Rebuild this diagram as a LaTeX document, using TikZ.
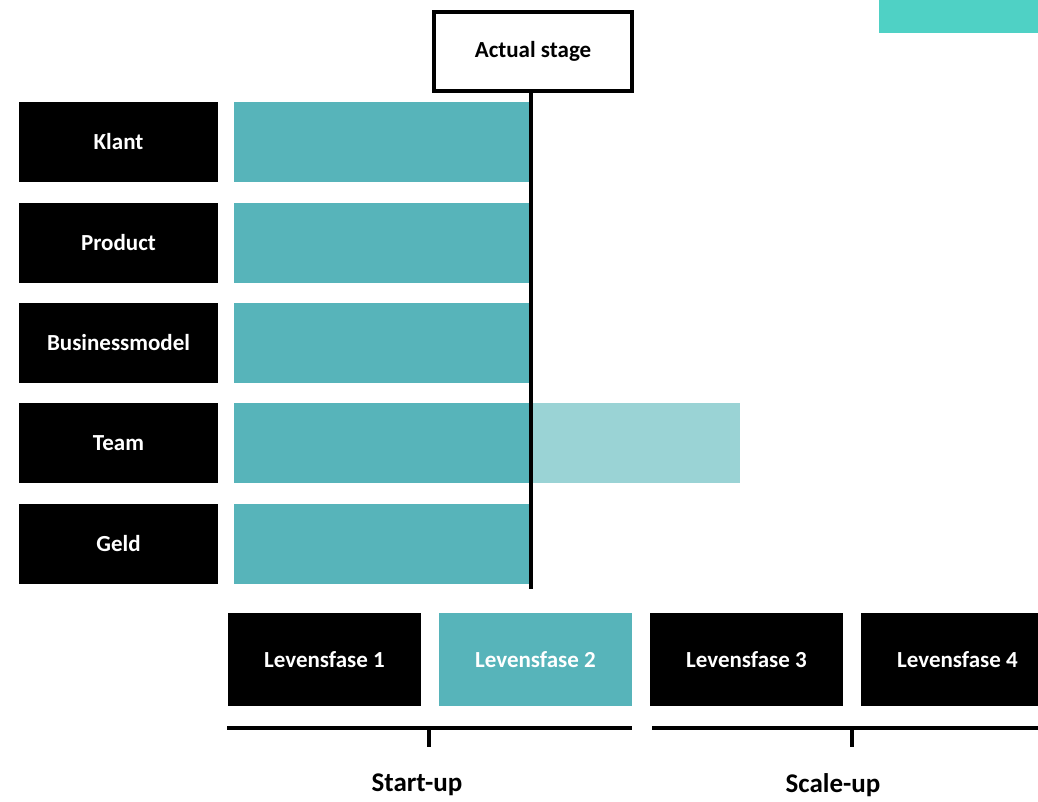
\documentclass[tikz,border=0pt]{standalone}
\usepackage{fontspec}
\setmainfont{Carlito}
\definecolor{tealbar}{RGB}{87,180,186}
\definecolor{tealite}{RGB}{154,211,213}
\definecolor{tealtop}{RGB}{79,209,197}
\begin{document}
\begin{tikzpicture}[x=1pt,y=-1pt,
  lab/.style={fill=black,text=white,inner sep=0pt,minimum width=199pt,minimum height=80pt,font=\bfseries\fontsize{23}{27}\selectfont},
  bar/.style={fill=tealbar,inner sep=0pt,minimum height=80pt},
  phase/.style={fill=black,text=white,inner sep=0pt,minimum width=193pt,minimum height=93pt,font=\bfseries\fontsize{23}{27}\selectfont},
  grp/.style={inner sep=0pt,font=\bfseries\fontsize{27}{31}\selectfont},
  brk/.style={line width=4.5pt}]
\useasboundingbox (0,0) rectangle (1038,801);
\clip (0,0) rectangle (1038,801);
\fill[white] (0,0) rectangle (1038,801);
% top right teal patch
\node[fill=tealtop,inner sep=0pt,minimum width=159pt,minimum height=33pt] (patch) at (958.5,16.5) {};
% row labels
\node[lab] (klant) at (118.5,142) {Klant};
\node[lab] (product) at (118.5,243) {Product};
\node[lab] (bm) at (118.5,343) {Businessmodel};
\node[lab] (team) at (118.5,443) {Team};
\node[lab] (geld) at (118.5,544) {Geld};
% bars
\node[bar,fill=tealite,minimum width=211pt] (teamlite) at (634.5,443) {};
\node[bar,minimum width=295pt] (bklant) at (381.5,142) {};
\node[bar,minimum width=295pt] (bproduct) at (381.5,243) {};
\node[bar,minimum width=295pt] (bbm) at (381.5,343) {};
\node[bar,minimum width=295pt] (bteam) at (381.5,443) {};
\node[bar,minimum width=295pt] (bgeld) at (381.5,544) {};
% actual stage
\node[draw=black,line width=4pt,fill=white,inner sep=0pt,minimum width=198pt,minimum height=79pt,font=\bfseries\fontsize{23}{27}\selectfont] (actual) at (533,51.5) {Actual stage};
\coordinate (lineend) at (531,589);
\draw[line width=3.2pt] (actual.south -| lineend) -- (lineend);
% phases
\node[phase] (p1) at (324.5,659.5) {Levensfase 1};
\node[phase,fill=tealbar] (p2) at (535.5,659.5) {Levensfase 2};
\node[phase] (p3) at (746.5,659.5) {Levensfase 3};
\node[phase] (p4) at (957.5,659.5) {Levensfase 4};
% brackets
\coordinate (s1) at (227,728);
\coordinate (s2) at (632,728);
\coordinate (st) at (429,728);
\coordinate (stb) at (429,747);
\draw[brk] (s1) -- (s2);
\draw[line width=4pt] (st) -- (stb);
\coordinate (c1) at (652,728);
\coordinate (c2) at (1045,728);
\coordinate (ct) at (852,728);
\coordinate (ctb) at (852,747);
\draw[brk] (c1) -- (c2);
\draw[line width=4pt] (ct) -- (ctb);
\node[grp] (startup) at (417,785) {Start-up};
\node[grp] (scaleup) at (833,785) {Scale-up};
\end{tikzpicture}
\end{document}
